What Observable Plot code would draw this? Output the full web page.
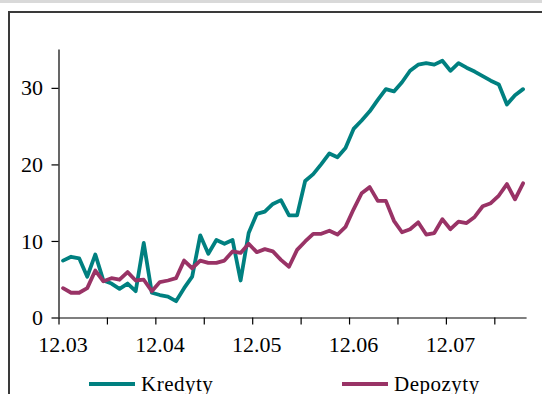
<!DOCTYPE html>
<html><head><meta charset="utf-8">
<script src="https://cdn.jsdelivr.net/npm/d3@7"></script>
<script src="https://cdn.jsdelivr.net/npm/@observablehq/plot@0.6"></script>
<style>
html,body{margin:0;padding:0;background:#fff;}
body{width:542px;height:394px;position:relative;overflow:hidden;font-family:"Liberation Serif","Times New Roman",serif;}
#strip{position:absolute;left:0;top:0;width:542px;height:3px;background:#d9d9d9;}
#frame{position:absolute;left:8px;top:11px;width:540px;height:390px;border-left:2px solid #3a3a3a;border-top:2px solid #3a3a3a;}
#chart{position:absolute;left:0;top:0;}
#legend{position:absolute;left:0;top:372px;width:542px;height:24px;font-size:21px;color:#000;}
.item{position:absolute;top:0;height:24px;display:flex;align-items:center;white-space:nowrap;}
.sw{display:inline-block;width:46px;height:4px;margin-right:6px;}
</style></head><body>
<div id="strip"></div>
<div id="frame"></div>
<div id="chart"></div>
<div id="legend"></div>
<script>
const categories = [
  "12.03",
  "01.04","02.04","03.04","04.04","05.04","06.04","07.04","08.04","09.04","10.04","11.04","12.04",
  "01.05","02.05","03.05","04.05","05.05","06.05","07.05","08.05","09.05","10.05","11.05","12.05",
  "01.06","02.06","03.06","04.06","05.06","06.06","07.06","08.06","09.06","10.06","11.06","12.06",
  "01.07","02.07","03.07","04.07","05.07","06.07","07.07","08.07","09.07","10.07","11.07","12.07",
  "01.08","02.08","03.08","04.08","05.08","06.08","07.08","08.08","09.08"
];
const kredyty = [
  7.5, 8.0, 7.8, 5.4, 8.3, 4.9, 4.5, 3.8, 4.5, 3.5, 9.8, 3.3, 3.0,
  2.8, 2.2, 3.9, 5.4, 10.8, 8.4, 10.2, 9.7, 10.2, 4.9, 11.1, 13.6,
  13.9, 14.9, 15.4, 13.4, 13.4, 17.9, 18.8, 20.1, 21.5, 21.0, 22.2, 24.7,
  25.8, 27.0, 28.5, 29.9, 29.6, 30.8, 32.3, 33.1, 33.3, 33.1, 33.6, 32.3,
  33.3, 32.7, 32.2, 31.6, 31.0, 30.5, 27.9, 29.1, 29.9
];
const depozyty = [
  3.9, 3.3, 3.3, 3.9, 6.2, 4.8, 5.2, 5.0, 6.0, 4.9, 5.0, 3.5, 4.7,
  4.9, 5.2, 7.5, 6.5, 7.5, 7.2, 7.2, 7.5, 8.7, 8.5, 9.7, 8.6,
  9.0, 8.7, 7.6, 6.7, 8.9, 10.0, 11.0, 11.0, 11.4, 10.9, 11.9, 14.2,
  16.3, 17.1, 15.3, 15.3, 12.7, 11.2, 11.6, 12.5, 10.9, 11.1, 12.9, 11.6,
  12.6, 12.4, 13.2, 14.6, 15.0, 16.0, 17.5, 15.5, 17.6
];
const seriesNames = ["Kredyty", "Depozyty"];
const yTicks = [0, 10, 20, 30];
const labelCategories = ["12.03", "12.04", "12.05", "12.06", "12.07"];

const colors = ["#008080", "#993366"];
const font = "'Liberation Serif', 'Times New Roman', serif";

const rows = [];
[kredyty, depozyty].forEach((vals, s) => vals.forEach((v, i) => rows.push({i, v, s: seriesNames[s]})));

const n = categories.length;
const boundaryTicks = d3.range(-0.5, n - 1, 6);
const labelTicks = labelCategories.map(c => categories.indexOf(c));

const chart = Plot.plot({
  width: 542,
  height: 365,
  marginLeft: 58.5,
  marginRight: 15.4,
  marginTop: 49.6,
  marginBottom: 47.5,
  style: {fontFamily: font, fontSize: "22px", color: "#000", background: "transparent", overflow: "visible"},
  x: {domain: [-0.5, n - 0.5]},
  y: {domain: [0, 35]},
  color: {domain: seriesNames, range: colors},
  marks: [
    Plot.axisY({ticks: yTicks, tickSize: 7, tickPadding: 9, fontSize: 22, label: null, strokeWidth: 1.2}),
    Plot.axisX({ticks: boundaryTicks, tickSize: 7, tickFormat: () => "", label: null, strokeWidth: 1.2}),
    Plot.axisX({ticks: labelTicks, tickSize: 0, tickPadding: 18, fontSize: 22, tickFormat: i => categories[i], label: null}),
    Plot.ruleX([-0.5], {y1: 0, y2: 35, stroke: "#000", strokeWidth: 1.2}),
    Plot.ruleY([0], {x1: -0.5, x2: n - 0.5, stroke: "#000", strokeWidth: 1.2}),
    Plot.lineY(rows, {x: "i", y: "v", stroke: "s", z: "s", strokeWidth: 3.8, strokeLinejoin: "round"})
  ]
});
document.getElementById("chart").appendChild(chart);

const legend = document.getElementById("legend");
const legendLeft = [89, 342];
seriesNames.forEach((name, k) => {
  const item = document.createElement("div");
  item.className = "item";
  item.style.left = legendLeft[k] + "px";
  const sw = document.createElement("span");
  sw.className = "sw";
  sw.style.background = colors[k];
  const t = document.createElement("span");
  t.textContent = name;
  t.style.letterSpacing = "0.5px";
  item.appendChild(sw);
  item.appendChild(t);
  legend.appendChild(item);
});
</script>
</body></html>
